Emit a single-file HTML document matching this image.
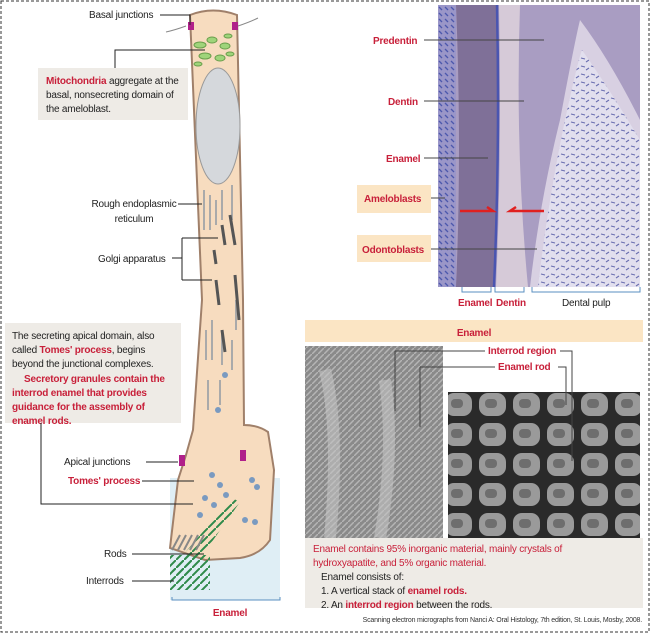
<!DOCTYPE html>
<html><head><meta charset="utf-8"><style>
html,body{margin:0;padding:0;background:#fff}
svg{display:block}
text{font-family:"Liberation Sans",Arial,sans-serif;letter-spacing:-0.2px}
</style></head><body>
<svg width="650" height="633" viewBox="0 0 650 633" xmlns="http://www.w3.org/2000/svg">
<defs>
<pattern id="sem1" width="6" height="6" patternUnits="userSpaceOnUse"><rect width="6" height="6" fill="#8a8a8a"/><path d="M0 6L6 0" stroke="#b5b5b5" stroke-width="1.5"/></pattern>
<pattern id="sem2" width="34" height="30" patternUnits="userSpaceOnUse"><rect width="34" height="30" fill="#2a2a2a"/><rect x="3" y="3" width="27" height="23" rx="9" fill="#9a9a9a"/><rect x="9" y="9" width="12" height="9" rx="4" fill="#6e6e6e"/></pattern>
<pattern id="green" width="8" height="8" patternUnits="userSpaceOnUse"><path d="M0 8L8 0" stroke="#2e8a4a" stroke-width="2"/></pattern>
<pattern id="speck" width="10" height="8" patternUnits="userSpaceOnUse"><rect width="10" height="8" fill="#e2dfee"/><path d="M1 2l4 1M6 6l3-2" stroke="#6a6eb0" stroke-width="1.1"/></pattern>
<pattern id="cells" width="6" height="6" patternUnits="userSpaceOnUse"><rect width="6" height="6" fill="#9a96c8"/><path d="M1 1l3 3" stroke="#4d58ad" stroke-width="1.3"/></pattern>
</defs>
<rect x="1" y="1" width="648" height="631" fill="none" stroke="#333" stroke-width="1" stroke-dasharray="3,2"/>

<!-- Left: ameloblast -->
<rect x="170" y="478" width="110" height="122" fill="#dfeef5"/>
<path d="M190 15 Q213 6 237 15 L243 300 L244 425 Q258 425 268 432 L274 470 L270 540 Q260 555 240 558 L205 560 L170 548 L178 480 L186 455 L193 430 L202 300 Z" fill="#f7dcbf" stroke="#a0806a" stroke-width="2"/>
<ellipse cx="218" cy="126" rx="22" ry="58" fill="#d5d8dc" stroke="#999"/>
<g fill="#9fd47a" stroke="#6a9e4c">
<ellipse cx="200" cy="45" rx="6" ry="3"/><ellipse cx="212" cy="40" rx="5" ry="3"/><ellipse cx="225" cy="46" rx="5" ry="3"/><ellipse cx="205" cy="56" rx="6" ry="3"/><ellipse cx="220" cy="58" rx="5" ry="3"/><ellipse cx="230" cy="54" rx="4" ry="2"/><ellipse cx="228" cy="36" rx="4" ry="2"/><ellipse cx="198" cy="64" rx="4" ry="2"/></g>
<rect x="188" y="22" width="6" height="8" fill="#b0208a"/><rect x="232" y="22" width="6" height="8" fill="#b0208a"/>
<path d="M186 26 Q175 30 166 32" stroke="#888" fill="none"/><path d="M238 26 Q250 22 258 18" stroke="#888" fill="none"/>
<g stroke="#aaa" fill="none" stroke-width="2">
<path d="M204 190v40M210 195v35M216 200v25M222 190v30M232 185v35"/>
<path d="M206 330v30M212 320v40M222 330v35M232 340v30M208 380v30M220 380v25M236 300v30"/></g>
<g stroke="#555" stroke-width="3" fill="none">
<path d="M230 215l5 30M222 225l3 20M216 280l3 25M235 275l4 45M222 330l3 22M214 250l2 14"/></g>
<g fill="#7a9ac0"><circle cx="225" cy="375" r="3"/><circle cx="218" cy="410" r="3"/><circle cx="212" cy="475" r="3"/><circle cx="220" cy="485" r="3"/><circle cx="205" cy="498" r="3"/><circle cx="214" cy="505" r="3"/><circle cx="252" cy="480" r="3"/><circle cx="257" cy="487" r="3"/><circle cx="245" cy="520" r="3"/><circle cx="255" cy="522" r="3"/><circle cx="226" cy="495" r="3"/><circle cx="200" cy="515" r="3"/></g>
<rect x="179" y="455" width="6" height="11" fill="#b0208a"/><rect x="240" y="450" width="6" height="11" fill="#b0208a"/>
<path d="M170 570 L232 498 L240 502 L185 580 Z" fill="url(#green)"/>
<rect x="170" y="555" width="40" height="35" fill="url(#green)"/>
<path d="M172 550l8-15M178 550l8-15M184 550l8-15M190 550l8-15M196 550l8-15" stroke="#888" stroke-width="2"/>
<path d="M172 597v3h108v-3" stroke="#5a8fc0" fill="none"/>
<text x="230" y="616" font-size="10" font-weight="bold" fill="#c8203a" text-anchor="middle">Enamel</text>

<text x="89" y="18" font-size="10" fill="#222">Basal junctions</text>
<path d="M160 15h30v10" stroke="#222" fill="none"/>
<rect x="38" y="68" width="150" height="52" fill="#eeebe6"/>
<path d="M115 68V50h90" stroke="#222" fill="none"/>
<text font-size="10" fill="#222"><tspan x="46" y="84"><tspan fill="#c8203a" font-weight="bold">Mitochondria</tspan> aggregate at the</tspan><tspan x="46" y="98">basal, nonsecreting domain of</tspan><tspan x="46" y="112">the ameloblast.</tspan></text>
<text font-size="10" fill="#222" text-anchor="middle"><tspan x="134" y="207">Rough endoplasmic</tspan><tspan x="134" y="222">reticulum</tspan></text>
<path d="M178 204h24" stroke="#222"/>
<text x="98" y="262" font-size="10" fill="#222">Golgi apparatus</text>
<path d="M172 258h10M182 238v42M182 238h36M182 280h30" stroke="#222" fill="none"/>
<rect x="5" y="323" width="176" height="100" fill="#eeebe6"/>
<text font-size="10" fill="#222"><tspan x="12" y="339">The secreting apical domain, also</tspan><tspan x="12" y="353">called <tspan fill="#c8203a" font-weight="bold">Tomes' process</tspan>, begins</tspan><tspan x="12" y="367">beyond the junctional complexes.</tspan></text>
<text font-size="10" fill="#c8203a" font-weight="bold"><tspan x="24" y="382">Secretory granules contain the</tspan><tspan x="12" y="396">interrod enamel that provides</tspan><tspan x="12" y="410">guidance for the assembly of</tspan><tspan x="12" y="424">enamel rods.</tspan></text>
<path d="M41 423v81h152" stroke="#222" fill="none"/>
<text x="64" y="465" font-size="10" fill="#222">Apical junctions</text>
<path d="M146 462h32" stroke="#222"/>
<text x="68" y="484" font-size="10" font-weight="bold" fill="#c8203a">Tomes' process</text>
<path d="M142 481h52" stroke="#222"/>
<text x="104" y="557" font-size="10" fill="#222">Rods</text>
<path d="M132 554h72" stroke="#222"/>
<text x="86" y="584" font-size="10" fill="#222">Interrods</text>
<path d="M132 581h42" stroke="#222"/>

<!-- Top right histology -->
<rect x="438" y="5" width="202" height="282" fill="#a99dc2"/>
<rect x="438" y="5" width="18" height="282" fill="url(#cells)"/>
<path d="M456 5 H497 Q500 150 494 287 H456 Q462 150 456 5Z" fill="#7f7098"/>
<path d="M497 5 Q500 150 494 287" stroke="#4a55b0" stroke-width="2.5" fill="none"/>
<path d="M499 5 H520 Q515 150 528 287 H496 Q502 150 499 5Z" fill="#d6cad8"/>
<path d="M530 287 Q540 200 560 120 Q575 40 580 20 Q610 60 640 120 V287Z" fill="#d8d0e2"/>
<path d="M538 287 Q548 200 565 120 Q578 60 582 50 Q610 90 640 140 V287Z" fill="url(#speck)"/>
<text x="373" y="44" font-size="10" font-weight="bold" fill="#c8203a">Predentin</text>
<path d="M424 40h120" stroke="#444"/>
<text x="388" y="105" font-size="10" font-weight="bold" fill="#c8203a">Dentin</text>
<path d="M424 101h100" stroke="#444"/>
<text x="386" y="162" font-size="10" font-weight="bold" fill="#c8203a">Enamel</text>
<path d="M424 158h64" stroke="#444"/>
<rect x="357" y="185" width="74" height="28" fill="#fbe5c4"/>
<text x="364" y="202" font-size="10" font-weight="bold" fill="#c8203a">Ameloblasts</text>
<path d="M431 198h14" stroke="#444"/>
<rect x="357" y="235" width="74" height="27" fill="#fbe5c4"/>
<text x="362" y="253" font-size="10" font-weight="bold" fill="#c8203a">Odontoblasts</text>
<path d="M431 249h106" stroke="#444"/>
<path d="M460 211h33l-6-4" stroke="#e02020" stroke-width="2.5" fill="none"/>
<path d="M544 211h-34l6-4" stroke="#e02020" stroke-width="2.5" fill="none"/>
<path d="M462 287v5h29v-5M495 287v5h29v-5M532 287v5h108v-5" stroke="#5a8fc0" fill="none"/>
<text x="458" y="306" font-size="10" font-weight="bold" fill="#c8203a">Enamel</text>
<text x="496" y="306" font-size="10" font-weight="bold" fill="#c8203a">Dentin</text>
<text x="562" y="306" font-size="10" fill="#222">Dental pulp</text>

<!-- Enamel SEM panel -->
<rect x="305" y="320" width="338" height="22" fill="#fbe5c4"/>
<text x="474" y="336" font-size="10" font-weight="bold" fill="#c8203a" text-anchor="middle">Enamel</text>
<rect x="305" y="346" width="138" height="192" fill="url(#sem1)"/>
<path d="M325 370 Q340 430 330 538 M385 380 Q395 450 380 538" stroke="#c4c4c4" stroke-width="12" fill="none" opacity="0.6"/>
<rect x="448" y="392" width="192" height="146" fill="url(#sem2)"/>
<text x="488" y="354" font-size="10" font-weight="bold" fill="#c8203a">Interrod region</text>
<path d="M395 351h90M395 351v60M560 351h12v110" stroke="#444" fill="none"/>
<text x="498" y="370" font-size="10" font-weight="bold" fill="#c8203a">Enamel rod</text>
<path d="M420 367h75M420 367v60M558 367h8v38" stroke="#444" fill="none"/>
<rect x="305" y="538" width="338" height="70" fill="#eeebe6"/>
<text font-size="10" fill="#c8203a"><tspan x="313" y="552">Enamel contains 95% inorganic material, mainly crystals of</tspan><tspan x="313" y="566">hydroxyapatite, and 5% organic material.</tspan></text>
<text font-size="10" fill="#222"><tspan x="321" y="580">Enamel consists of:</tspan><tspan x="321" y="594">1.  A vertical stack of <tspan fill="#c8203a" font-weight="bold">enamel rods.</tspan></tspan><tspan x="321" y="608">2. An <tspan fill="#c8203a" font-weight="bold">interrod region</tspan> between the rods.</tspan></text>
<text x="642" y="622" font-size="7" fill="#333" text-anchor="end">Scanning electron micrographs from Nanci A: Oral Histology, 7th edition, St. Louis, Mosby, 2008.</text>
</svg>
</body></html>
